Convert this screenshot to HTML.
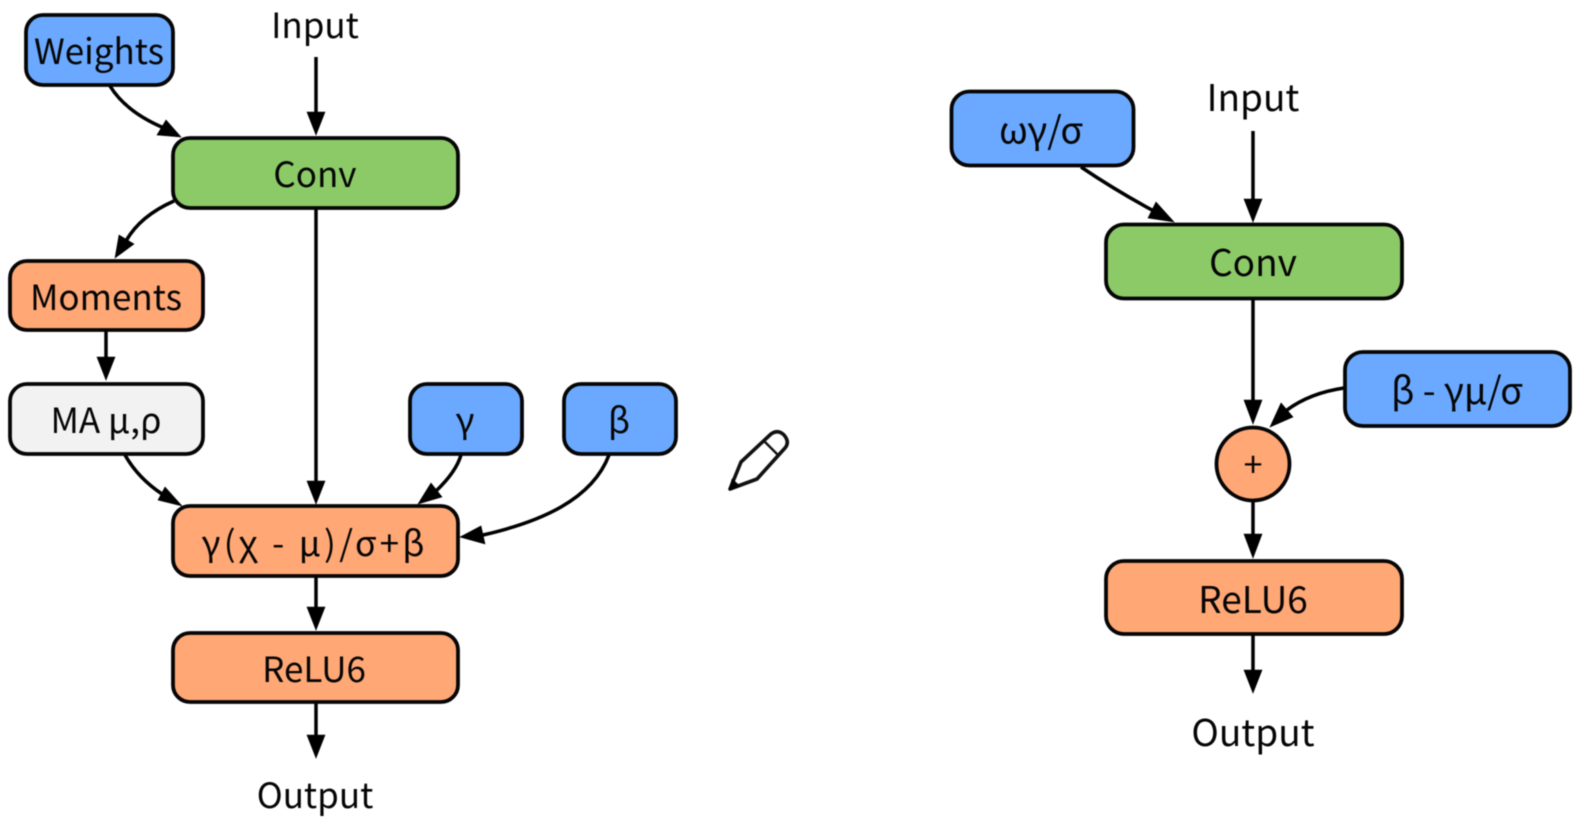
<!DOCTYPE html>
<html lang="en"><head><meta charset="utf-8"><title>Diagram</title>
<style>
html,body{margin:0;padding:0;background:#fff;width:1584px;height:831px;overflow:hidden}
svg{display:block;filter:blur(.6px)}
text{font-family:"Noto Sans CJK SC","Liberation Sans",sans-serif;fill:#050505;text-anchor:middle}
.b{stroke:#050505;stroke-width:3.8}
.l{fill:none;stroke:#000;stroke-width:3.5}
.h{fill:#000;stroke:#000;stroke-width:.6}
.s{font-size:35px}.m{font-size:37px}
</style></head><body>
<svg width="1584" height="831" viewBox="0 0 1584 831" xmlns="http://www.w3.org/2000/svg">
<!-- Left connectors -->
<line class="l" x1="316" y1="57" x2="316" y2="115"/><polygon class="h" points="307,112 325,112 316,135"/>
<path class="l" d="M110,86 Q126,112 164,128"/><polygon class="h" points="166,120 157,135 181,137"/>
<path class="l" d="M174,201 Q140,216 126,241"/><polygon class="h" points="119,235 134,244 115,258"/>
<line class="l" x1="106" y1="331" x2="106" y2="360"/><polygon class="h" points="97,357 115,357 106,380"/>
<line class="l" x1="316" y1="209" x2="316" y2="484"/><polygon class="h" points="307,481 325,481 316,504"/>
<path class="l" d="M125,455 Q138,478 162,494"/><polygon class="h" points="165,487 158,500 182,506"/>
<path class="l" d="M461,455 Q456,472 436,491"/><polygon class="h" points="431,483 442,497 418,504"/>
<path class="l" d="M609,455 C592,500 540,522 483,535"/><polygon class="h" points="481,526 485,544 460,537"/>
<line class="l" x1="316" y1="577" x2="316" y2="610"/><polygon class="h" points="307,607 325,607 316,630"/>
<line class="l" x1="316" y1="703" x2="316" y2="738"/><polygon class="h" points="307,735 325,735 316,758"/>
<!-- Left nodes -->
<rect class="b" x="26" y="15" width="147" height="70" rx="17" fill="#6aa9ff"/>
<rect class="b" x="173" y="138" width="285" height="70" rx="17" fill="#8bca67"/>
<rect class="b" x="10" y="261" width="193" height="69" rx="17" fill="#ffa775"/>
<rect class="b" x="10" y="384" width="193" height="70" rx="17" fill="#f2f2f2"/>
<rect class="b" x="410" y="384" width="112" height="70" rx="17" fill="#6aa9ff"/>
<rect class="b" x="564" y="384" width="112" height="70" rx="17" fill="#6aa9ff"/>
<rect class="b" x="173" y="506" width="285" height="70" rx="17" fill="#ffa775"/>
<rect class="b" x="173" y="633" width="285" height="69" rx="17" fill="#ffa775"/>
<!-- Left labels -->
<text class="s" x="315" y="38">Input</text>
<text class="s" x="99" y="64">Weights</text>
<text class="s" x="315" y="187">Conv</text>
<text class="s" x="106" y="310">Moments</text>
<text class="s" x="106" y="433">MA μ,ρ</text>
<text class="s" x="465" y="433">γ</text>
<text class="s" x="619" y="433">β</text>
<text class="s" x="313" y="556" textLength="223" lengthAdjust="spacing">γ(χ&#160;-&#160;μ)/σ+β</text>
<text class="s" x="314" y="682">ReLU6</text>
<text class="s" x="315" y="808">Output</text>
<!-- Pencil -->
<g fill="none" stroke="#111" stroke-width="3.6" stroke-linejoin="round">
<path d="M730,489 L741,462 L771,434 Q778,429 784,435 Q790,442 785,448 L757,479 Z" fill="#fff"/>
<path d="M764,441 L778,455" stroke-width="2.4"/>
</g>
<polygon class="h" points="729,490 732,479 740,486"/>
<!-- Right connectors -->
<line class="l" x1="1253" y1="131" x2="1253" y2="202"/><polygon class="h" points="1244,199 1262,199 1253,222"/>
<path class="l" d="M1081,167 Q1115,190 1152,210"/><polygon class="h" points="1156,202 1148,218 1174,222"/>
<line class="l" x1="1253" y1="299" x2="1253" y2="402"/><polygon class="h" points="1244,400 1262,400 1253,424"/>
<path class="l" d="M1344,388 Q1310,393 1287,410"/><polygon class="h" points="1281,403 1293,417 1270,427"/>
<line class="l" x1="1253" y1="500" x2="1253" y2="536"/><polygon class="h" points="1244,534 1262,534 1253,558"/>
<line class="l" x1="1253" y1="635" x2="1253" y2="672"/><polygon class="h" points="1244,670 1262,670 1253,693"/>
<!-- Right nodes -->
<rect class="b" x="951.5" y="91.5" width="182" height="74" rx="18" fill="#6aa9ff"/>
<rect class="b" x="1106" y="224.5" width="296" height="74" rx="18" fill="#8bca67"/>
<rect class="b" x="1345" y="352" width="225" height="74" rx="18" fill="#6aa9ff"/>
<circle class="b" cx="1253" cy="464" r="36.5" fill="#ffa775"/>
<rect class="b" x="1106" y="561" width="296" height="73" rx="18" fill="#ffa775"/>
<!-- Right labels -->
<text class="m" x="1253" y="111">Input</text>
<text class="m" x="1041" y="143.5">ωγ/σ</text>
<text class="m" x="1253" y="276">Conv</text>
<text class="m" x="1457" y="404">β - γμ/σ</text>
<text x="1253" y="477" style="font-size:34px">+</text>
<text class="m" x="1253" y="613">ReLU6</text>
<text class="m" x="1253" y="746">Output</text>
</svg>
</body></html>
